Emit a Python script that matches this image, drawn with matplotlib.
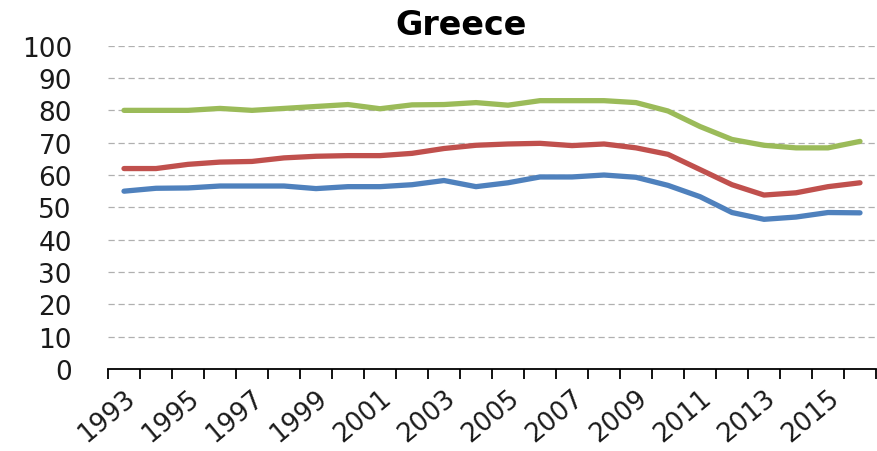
import matplotlib
matplotlib.use("Agg")
import matplotlib.pyplot as plt
import numpy as np

years = list(range(1993, 2017))
green = [80.0, 80.0, 80.0, 80.6, 80.0, 80.6, 81.2, 81.8, 80.5, 81.7, 81.8, 82.4,
         81.6, 83.0, 83.0, 83.0, 82.4, 79.8, 75.0, 71.0, 69.2, 68.4, 68.4, 70.4]
red = [62.0, 62.0, 63.3, 64.0, 64.2, 65.3, 65.8, 66.0, 66.0, 66.7, 68.2, 69.2,
       69.6, 69.8, 69.1, 69.6, 68.4, 66.4, 61.7, 57.0, 53.8, 54.5, 56.4, 57.6]
blue = [55.0, 55.9, 56.0, 56.6, 56.6, 56.6, 55.8, 56.4, 56.4, 57.0, 58.3, 56.4,
        57.6, 59.4, 59.4, 60.0, 59.3, 56.8, 53.3, 48.4, 46.3, 47.0, 48.4, 48.3]
yticks = list(range(0, 101, 10))

plt.rcParams['font.family'] = ['DejaVu Sans']
fig = plt.figure(figsize=(8.77, 4.52), dpi=100)
ax = fig.add_axes([108/877, 1-370/452, 768/877, (370-46.7)/452])

x = np.arange(len(years))
for s, c in [(green, '#9BBB59'), (red, '#C0504D'), (blue, '#4F81BD')]:
    ax.plot(x, s, color=c, lw=3.8, solid_capstyle='round', solid_joinstyle='round')

ax.set_xlim(-0.5, len(years) - 0.5)
ax.set_ylim(0, 100)
ax.set_yticks(yticks)
ax.set_yticklabels([str(v) for v in yticks], fontsize=19, color='#1a1a1a')
for v in yticks[1:]:
    ax.axhline(v, color='#B0B0B0', lw=0.9, ls=(0, (5, 3)), zorder=0)
ax.tick_params(axis='y', length=0, pad=26)

ax.set_xticks(x[::2])
ax.set_xticklabels([str(y) for y in years[::2]], fontsize=18.5, rotation=40,
                   ha='right', va='top', rotation_mode='anchor', color='#1a1a1a')
ax.set_xticks(np.arange(-0.5, len(years) + 0.5, 1), minor=True)
ax.tick_params(axis='x', which='major', length=0, pad=11)
ax.tick_params(axis='x', which='minor', length=7, width=1.3, direction='out', color='black')

for sp in ['top', 'right', 'left']:
    ax.spines[sp].set_visible(False)
ax.spines['bottom'].set_linewidth(1.3)
ax.spines['bottom'].set_color('black')

fig.text(461/877, 1-35/452, 'Greece', fontsize=24, fontweight='bold',
         ha='center', va='baseline')

fig.savefig('out.png', dpi=100)
